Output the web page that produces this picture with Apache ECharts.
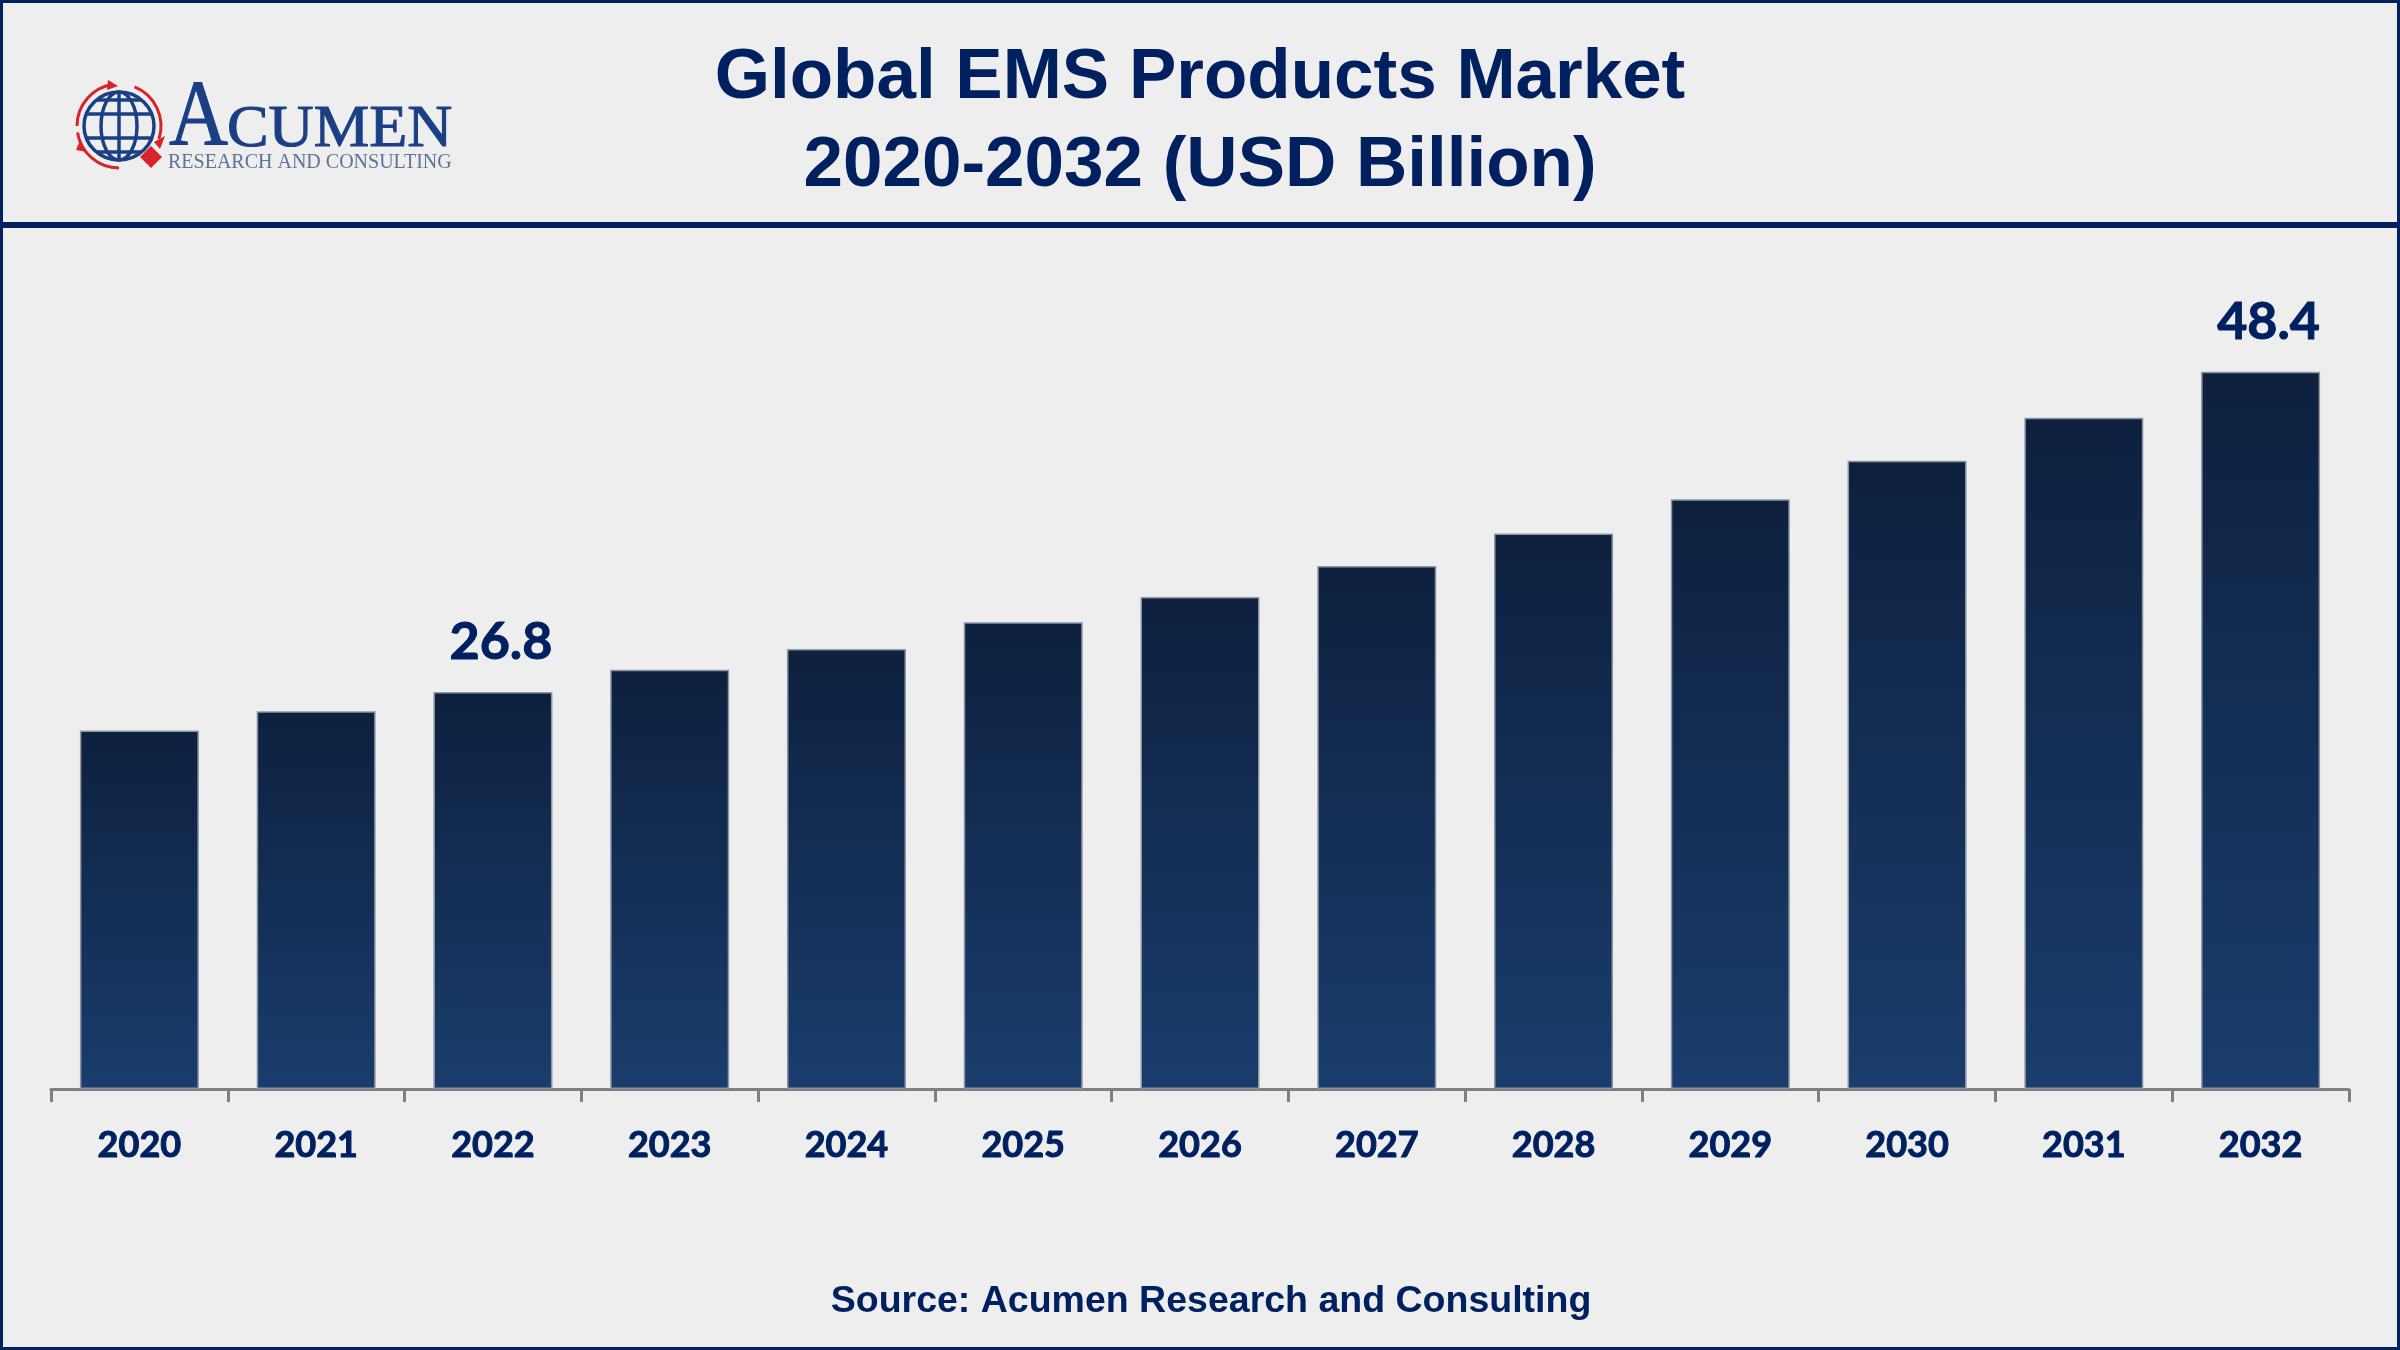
<!DOCTYPE html>
<html>
<head>
<meta charset="utf-8">
<title>Global EMS Products Market</title>
<style>
    html, body { margin: 0; padding: 0; background: #eeeeee; }
    #main { width: 2400px; height: 1350px; }
</style>
<script src="https://cdn.jsdelivr.net/npm/echarts@6/dist/echarts.min.js"></script>
</head>
<body>
<div id="main"></div>
<script>
// values, only 2022 and 2032 are printed in the original
var years = ['2020', '2021', '2022', '2023', '2024', '2025', '2026', '2027', '2028', '2029', '2030', '2031', '2032'];
var marketValues = [24.2, 25.5, 26.8, 28.3, 29.7, 31.5, 33.2, 35.3, 37.5, 39.8, 42.4, 45.3, 48.4];
var labelledYears = ['2022', '2032'];

var navy = '#002060';
var logoBlue = '#1b3f85';
var logoRed = '#d8232a';

var _seriesData = [];
for (var i = 0; i < years.length; i++) {
    _seriesData.push({
        value: marketValues[i],
        label: { show: labelledYears.indexOf(years[i]) > -1 }
    });
}

// logo is drawn from plain shapes
var logoCx = 119, logoCy = 126;
function globeLine(x1, y1, x2, y2) {
    return { type: 'line', shape: { x1: x1, y1: y1, x2: x2, y2: y2 }, style: { stroke: logoBlue, lineWidth: 3.5 } };
}
function globeEllipse(rx, ry) {
    return { type: 'ellipse', shape: { cx: logoCx, cy: logoCy, rx: rx, ry: ry }, style: { fill: 'none', stroke: logoBlue, lineWidth: 3.5 } };
}
function redArc(start, end) {
    return { type: 'arc', shape: { cx: logoCx, cy: logoCy, r: 42, startAngle: start, endAngle: end }, style: { fill: 'none', stroke: logoRed, lineWidth: 3 } };
}
function redHead(points) {
    return { type: 'polygon', shape: { points: points }, style: { fill: logoRed } };
}

var frame = [
    { type: 'rect', shape: { x: 1.5, y: 1.5, width: 2397, height: 1347 }, style: { fill: 'none', stroke: navy, lineWidth: 3 } },
    { type: 'rect', shape: { x: 0, y: 222, width: 2400, height: 6 }, style: { fill: navy } }
];
var logo = [
    globeEllipse(35, 34),
    globeEllipse(18, 34),
    globeLine(logoCx, logoCy - 34, logoCx, logoCy + 34),
    globeLine(logoCx - 33, logoCy - 12, logoCx + 33, logoCy - 12),
    globeLine(logoCx - 33, logoCy + 12, logoCx + 33, logoCy + 12),
    globeLine(logoCx - 22, logoCy - 26, logoCx + 22, logoCy - 26),
    globeLine(logoCx - 22, logoCy + 26, logoCx + 22, logoCy + 26),
    redArc(Math.PI * 1.0, Math.PI * 1.45),
    redArc(Math.PI * 1.62, Math.PI * 2.1),
    redArc(Math.PI * 0.5, Math.PI * 0.95),
    redHead([[108, 80], [118, 86], [107, 90]]),
    redHead([[154, 142], [165, 136], [160, 149]]),
    redHead([[80, 140], [87, 152], [76, 150]]),
    { type: 'polygon', shape: { points: [[151, 146], [162, 157], [151, 168], [140, 157]] }, style: { fill: logoRed } },
    { type: 'text', x: 169, y: 72, scaleX: 0.87, style: { text: 'A', fill: logoBlue, font: '94px "Liberation Serif"', stroke: logoBlue, lineWidth: 1 } },
    { type: 'text', x: 227, y: 100, scaleX: 1.04, style: { text: 'CUMEN', fill: logoBlue, font: '60px "Liberation Serif"', stroke: logoBlue, lineWidth: 1 } },
    { type: 'text', x: 168, y: 153, style: { text: 'RESEARCH AND CONSULTING', fill: '#5f7299', font: '20px "Liberation Serif"' } }
];

var option = {
    backgroundColor: '#eeeeee',
    animation: false,
    title: [{
        text: 'Global EMS Products Market\n2020-2032 (USD Billion)',
        left: 1195,
        top: 29,
        textAlign: 'center',
        textStyle: {
            color: navy,
            fontFamily: 'Liberation Sans',
            fontWeight: 'bold',
            fontSize: 71,
            lineHeight: 88
        }
    }, {
        text: 'Source: Acumen Research and Consulting',
        left: 1206,
        top: 1278,
        textAlign: 'center',
        textStyle: {
            color: navy,
            fontFamily: 'Liberation Sans',
            fontWeight: 'bold',
            fontSize: 37.5
        }
    }],
    grid: { left: 51, right: 51, top: 200, bottom: 261 },
    xAxis: {
        type: 'category',
        data: years,
        axisLine: { lineStyle: { color: '#808080', width: 3 } },
        axisTick: { show: true, length: 13, lineStyle: { color: '#808080', width: 3 } },
        axisLabel: {
            margin: 38,
            color: navy,
            fontFamily: 'Lato',
            fontWeight: 'bold',
            fontSize: 36,
            textBorderColor: navy,
            textBorderWidth: 1
        }
    },
    yAxis: {
        type: 'value',
        min: 0,
        max: 60,
        show: false
    },
    series: [{
        type: 'bar',
        barWidth: 119,
        data: _seriesData,
        itemStyle: {
            borderColor: '#8b95a3',
            borderWidth: 1.5,
            color: {
                type: 'linear', x: 0, y: 0, x2: 0, y2: 1,
                colorStops: [{ offset: 0, color: '#0d203e' }, { offset: 1, color: '#1a3d6d' }]
            }
        },
        label: {
            position: 'top',
            distance: 24,
            offset: [8, 0],
            color: navy,
            fontFamily: 'Lato',
            fontWeight: 'bold',
            fontSize: 52,
            textBorderColor: navy,
            textBorderWidth: 1
        }
    }],
    graphic: frame.concat(logo)
};

var chart = echarts.init(document.getElementById('main'));
chart.setOption(option);
</script>
</body>
</html>
